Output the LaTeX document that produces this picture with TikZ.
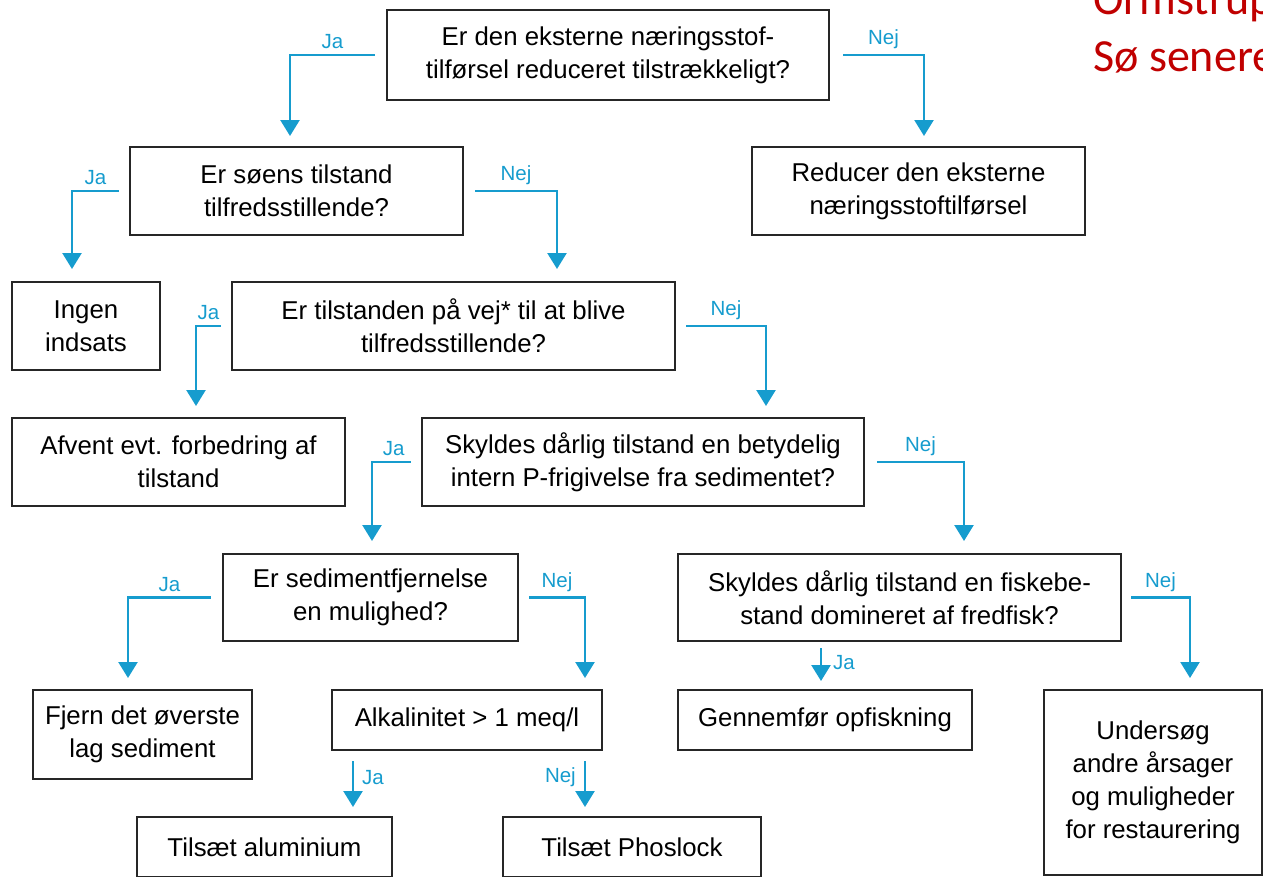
\documentclass[tikz,border=0pt]{standalone}
\usepackage{fontspec}
\setmainfont{Liberation Sans}
\newfontfamily\notefont{Carlito}
\usetikzlibrary{arrows.meta}
\definecolor{arrowblue}{RGB}{22,156,206}
\definecolor{notered}{RGB}{192,0,0}
\tikzset{
 box/.style={draw=black!85, line width=2.2pt, align=center, inner sep=0pt,
  font=\fontsize{25.8}{33}\selectfont},
 boxsize/.style 2 args={minimum width=#1pt, minimum height=#2pt},
 link/.style={draw=arrowblue, line width=2.4pt, -{Triangle[width=19pt,length=16pt]}},
 lab/.style={text=arrowblue, font=\fontsize{20.5}{24}\selectfont, inner sep=2pt},
 note/.style={text=notered, font=\notefont\fontsize{46}{56}\selectfont, anchor=base west, inner sep=0pt}
}
\begin{document}
\begin{tikzpicture}[x=1pt,y=-1pt]
\clip (0,0) rectangle (1263,876);

% red note, cut by the edge
\node[note] (note1) at (1093,14) {Ormstrup};
\node[note] (note2) at (1093,71) {Sø senere};

% boxes
\node[box, boxsize={442}{90}] (q1) at (608,55) {Er den eksterne næringsstof-\\tilførsel reduceret tilstrækkeligt?};
\node[box, boxsize={333}{88}] (reduce) at (918.5,191) {Reducer den eksterne\\næringsstoftilførsel};
\node[box, boxsize={333}{88}] (q2) at (296.5,191) {Er søens tilstand\\tilfredsstillende?};
\node[box, boxsize={148}{88}] (none) at (86,326) {Ingen\\indsats};
\node[box, boxsize={443}{88}] (q3) at (453.5,326) {Er tilstanden på vej* til at blive\\tilfredsstillende?};
\node[box, boxsize={333}{88}] (wait) at (178.5,462) {Afvent evt. forbedring af\\tilstand};
\node[box, boxsize={442}{88}] (q4) at (643,462) {Skyldes dårlig tilstand en betydelig\\intern P-frigivelse fra sedimentet?};
\node[box, boxsize={295}{87}] (q5) at (370.5,597.5) {Er sedimentfjernelse\\en mulighed?};
\node[box, boxsize={443}{87}] (q6) at (899.5,597.5) {Skyldes dårlig tilstand en fiskebe-\\stand domineret af fredfisk?};
\node[box, boxsize={219}{89}] (remove) at (142.5,734.5) {Fjern det øverste\\lag sediment};
\node[box, boxsize={270}{60}] (q7) at (467,720) {Alkalinitet > 1 meq/l};
\node[box, boxsize={294}{60}] (fishing) at (825,720) {Gennemfør opfiskning};
\node[box, boxsize={218}{185}] (other) at (1153,782.5) {Undersøg\\andre årsager\\og muligheder\\for restaurering};
\node[box, boxsize={255}{60}] (alu) at (264.5,847) {Tilsæt aluminium};
\node[box, boxsize={258}{60}] (phos) at (632,847) {Tilsæt Phoslock};

% arrow tips
\coordinate (t1) at (290,136);  \coordinate (t2) at (924,136);
\coordinate (t3) at (72,269);   \coordinate (t4) at (557,269);
\coordinate (t5) at (196,406);  \coordinate (t6) at (766,406);
\coordinate (t7) at (372,541);  \coordinate (t8) at (964,541);
\coordinate (t9) at (128,678);  \coordinate (t10) at (585,678);
\coordinate (t11) at (821,681); \coordinate (t12) at (1190,678);
\coordinate (t13) at (353,807); \coordinate (t14) at (585,807);

% connectors
\draw[link] ([xshift=-11pt]q1.west) -| node[lab, pos=0.25, above=3pt] {Ja} (t1);
\draw[link] ([xshift=13pt]q1.east) -| node[lab, pos=0.25, above=3pt] {Nej} (t2);
\draw[link] ([xshift=-10pt]q2.west) -| node[lab, pos=0.25, above=3pt] {Ja} (t3);
\draw[link] ([xshift=11pt]q2.east) -| node[lab, pos=0.25, above=3pt] {Nej} (t4);
\draw[link] ([xshift=-10pt]q3.west) -| node[lab, pos=0.25, above=3pt] {Ja} (t5);
\draw[link] ([xshift=10pt]q3.east) -| node[lab, pos=0.25, above=3pt] {Nej} (t6);
\draw[link] ([xshift=-10pt]q4.west) -| node[lab, pos=0.22, above=3pt] {Ja} (t7);
\draw[link] ([xshift=12pt]q4.east) -| node[lab, pos=0.25, above=3pt] {Nej} (t8);
\draw[link] ([xshift=-11pt]q5.west) -| node[lab, pos=0.25, above=3pt] {Ja} (t9);
\draw[link] ([xshift=10pt]q5.east) -| node[lab, pos=0.25, above=3pt] {Nej} (t10);
\draw[link] ([yshift=-6pt]q6.south -| t11) -- node[lab, pos=0.45, right=9pt] {Ja} (t11);
\draw[link] ([xshift=9pt]q6.east) -| node[lab, pos=0.25, above=3pt] {Nej} (t12);
\draw[link] ([yshift=-10pt]q7.south -| t13) -- node[lab, pos=0.35, right=6pt] {Ja} (t13);
\draw[link] ([yshift=-10pt]q7.south -| t14) -- node[lab, pos=0.35, left=6pt] {Nej} (t14);

\end{tikzpicture}
\end{document}
